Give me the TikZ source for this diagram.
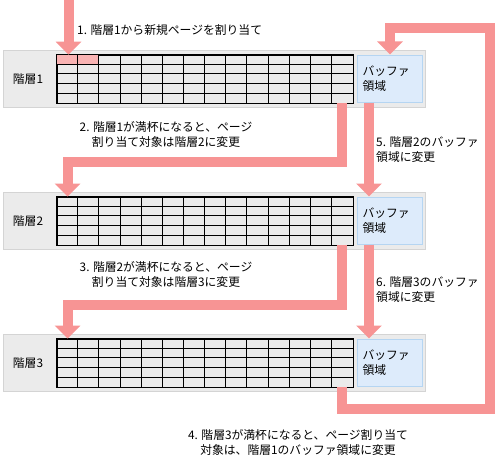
\documentclass[tikz,border=0pt]{standalone}
\usepackage{fontspec}
\setmainfont{Noto Sans CJK JP}
\usetikzlibrary{arrows.meta}
\usetikzlibrary{positioning}
\definecolor{arrowpink}{HTML}{F79494}
\definecolor{cellpink}{HTML}{F9B3B3}
\definecolor{panelgray}{HTML}{EBEBEB}
\definecolor{panelline}{HTML}{D4D4D4}
\definecolor{bufblue}{HTML}{DDEBFB}
\definecolor{bufline}{HTML}{B5D5F2}
\tikzstyle{tier} = [rectangle, fill=panelgray, draw=panelline, line width=1pt, minimum width=422pt, minimum height=57pt, inner sep=0pt]
\tikzstyle{pagegrid} = [rectangle, draw=black, line width=0.8pt, minimum width=296pt, minimum height=48pt, inner sep=0pt]
\tikzstyle{buffer} = [rectangle, fill=bufblue, draw=bufline, line width=1pt, minimum width=65pt, minimum height=47pt, inner xsep=5pt, text width=55pt, align=left]
\tikzstyle{flow} = [line width=10pt, draw=arrowpink, -{Triangle[width=25pt,length=13pt]}]
\tikzstyle{note} = [inner sep=0pt, align=center]

\begin{document}
\begin{tikzpicture}[x=1pt, y=-1pt, font=\fontsize{11.8}{15}\selectfont]
\useasboundingbox (0,0) rectangle (497,460);

% tiers
\node (tier1) [tier] at (214.5,79) {};
\node (tier2) [tier] at (214.5,221) {};
\node (tier3) [tier] at (214.5,363) {};

\node (grid1) [pagegrid] at (205,79) {};
\node (grid2) [pagegrid] at (205,221) {};
\node (grid3) [pagegrid] at (205,363) {};

\fill[cellpink] (grid1.north west) rectangle ++(42.3,9.6);
\foreach \g in {grid1,grid2,grid3} {
  \foreach \c in {1,...,13}
    \draw[line width=0.8pt] (\g.north west) ++(\c*21.143,0) -- ++(0,48);
  \foreach \r in {1,...,4}
    \draw[line width=0.8pt] (\g.north west) ++(0,\r*9.6) -- ++(296,0);
  \draw[line width=0.8pt] (\g.north west) rectangle (\g.south east);
}

\node (label1) [left=10pt of grid1] {階層1};
\node (label2) [left=10pt of grid2] {階層2};
\node (label3) [left=10pt of grid3] {階層3};

\node (buffer1) [buffer] at (390,78.5) {バッファ\\領域};
\node (buffer2) [buffer] at (390,220.5) {バッファ\\領域};
\node (buffer3) [buffer] at (390,362.5) {バッファ\\領域};

% arrows
\coordinate (start) at (68.5,0);
\coordinate (loopbottom) at (490,409);
\coordinate (looptop) at (490,28);

\draw[flow] (start) -- (start |- grid1.north);
\draw[flow] ([xshift=-11pt]grid1.south east) -- ++(0,59) -| ([xshift=11pt]grid2.north west);
\draw[flow] ([xshift=-11pt]grid2.south east) -- ++(0,60) -| ([xshift=11pt]grid3.north west);
\draw[flow] ([xshift=-11pt]grid3.south east) |- (loopbottom) -- (looptop) -| (buffer1.north);
\draw[flow] ([xshift=-21pt]buffer1.south) -- ([xshift=-21pt]buffer2.north);
\draw[flow] ([xshift=-21pt]buffer2.south) -- ([xshift=-21pt]buffer3.north);

% notes
\node (note1) [note, anchor=west] at (77,30) {1. 階層1から新規ページを割り当て};
\node (note2) [note] at (166,134) {2. 階層1が満杯になると、ページ\\割り当て対象は階層2に変更};
\node (note3) [note] at (166,274) {3. 階層2が満杯になると、ページ\\割り当て対象は階層3に変更};
\node (note4) [note] at (298,442) {4. 階層3が満杯になると、ページ割り当て\\対象は、階層1のバッファ領域に変更};
\node (note5) [note, anchor=west, align=left] at (376,150) {5. 階層2のバッファ\\領域に変更};
\node (note6) [note, anchor=west, align=left] at (376,290) {6. 階層3のバッファ\\領域に変更};
\end{tikzpicture}
\end{document}
